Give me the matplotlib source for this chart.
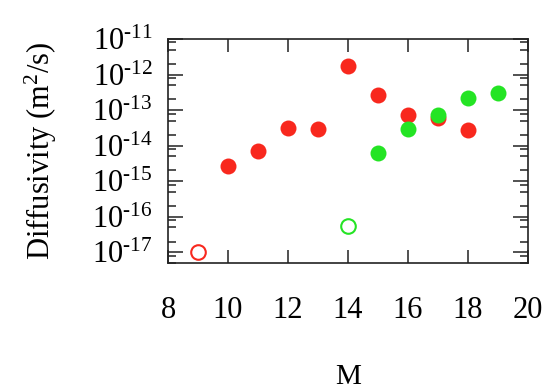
import matplotlib
matplotlib.use('Agg')
import matplotlib.pyplot as plt
from matplotlib.ticker import LogLocator, NullFormatter, FixedLocator

plt.rcParams['font.family'] = ['Liberation Serif', 'DejaVu Serif']
plt.rcParams['mathtext.fontset'] = 'custom'
plt.rcParams['mathtext.rm'] = 'Liberation Serif'
plt.rcParams['mathtext.it'] = 'Liberation Serif:italic'

# red series (filled) and its open point
red_M = [10, 11, 12, 13, 14, 15, 16, 17, 18]
red_D = [2.6e-15, 7.2e-15, 3.2e-14, 2.9e-14, 1.74e-12, 2.6e-13, 7.2e-14, 5.9e-14, 2.75e-14]
red_open_M = [9]
red_open_D = [1.05e-17]

# green series (filled) and its open point
green_M = [15, 16, 17, 18, 19]
green_D = [6.1e-15, 2.9e-14, 7.2e-14, 2.2e-13, 3.05e-13]
green_open_M = [14]
green_open_D = [5.4e-17]

xticks = [8, 10, 12, 14, 16, 18, 20]
yticks = [1e-17, 1e-16, 1e-15, 1e-14, 1e-13, 1e-12, 1e-11]
ytick_labels = [r'$\mathrm{10}^{\text{-}17}$', r'$\mathrm{10}^{\text{-}16}$',
                r'$\mathrm{10}^{\text{-}15}$', r'$\mathrm{10}^{\text{-}14}$',
                r'$\mathrm{10}^{\text{-}13}$', r'$\mathrm{10}^{\text{-}12}$',
                r'$\mathrm{10}^{\text{-}11}$']

red = '#f8281e'
green = '#24e424'

fig = plt.figure(figsize=(5.5, 3.91), dpi=100)
ax = fig.add_axes([0.3055, 0.3274, 0.6545, 0.5729])

ax.plot(red_M, red_D, 'o', color=red, markersize=11.5, markeredgewidth=0)
ax.plot(red_open_M, red_open_D, 'o', markerfacecolor='none', markeredgecolor=red,
        markersize=10.5, markeredgewidth=1.5)
ax.plot(green_M, green_D, 'o', color=green, markersize=11.5, markeredgewidth=0)
ax.plot(green_open_M, green_open_D, 'o', markerfacecolor='none', markeredgecolor=green,
        markersize=10.5, markeredgewidth=1.5)

ax.set_yscale('log')
ax.set_xlim(8, 20)
ax.set_ylim(5e-18, 1e-11)

ax.xaxis.set_major_locator(FixedLocator(xticks))
ax.set_xticklabels([str(t) for t in xticks])
ax.yaxis.set_major_locator(FixedLocator(yticks))
ax.set_yticklabels(ytick_labels)
ax.yaxis.set_minor_locator(LogLocator(base=10, subs=[2, 5, 8], numticks=20))
ax.yaxis.set_minor_formatter(NullFormatter())

ax.tick_params(axis='both', which='both', direction='in', top=True, right=True,
               colors='#222222', labelcolor='black')
ax.tick_params(axis='x', which='major', length=9.5, width=1.1, pad=24, labelsize=22)
ax.tick_params(axis='y', which='major', length=11, width=1.1, pad=11, labelsize=22)
ax.tick_params(axis='y', which='minor', length=5.5, width=1.1)
ax.tick_params(axis='x', which='minor', length=0)

for s in ax.spines.values():
    s.set_linewidth(1.2)
    s.set_color('#222222')

ax.set_xlabel('M', fontsize=21, labelpad=28)
ax.set_ylabel(r'Diffusivity (m$^2$/s)', fontsize=22, labelpad=24)

fig.savefig('out.png', dpi=100)
